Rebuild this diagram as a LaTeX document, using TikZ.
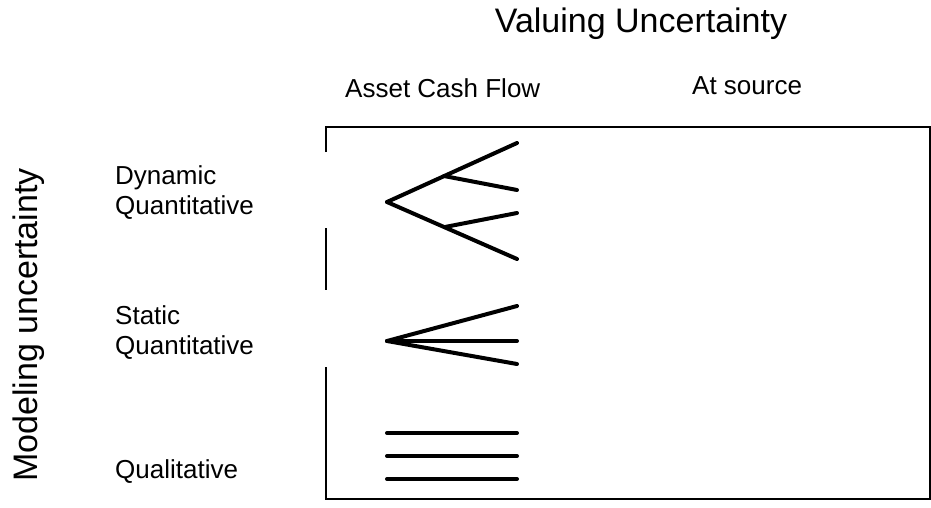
\documentclass[tikz,border=0pt]{standalone}
\usepackage{fontspec}
\setmainfont{Liberation Sans}
\usetikzlibrary{positioning}

\begin{document}
\begin{tikzpicture}[-,x=1pt,y=-1pt,line cap=round]
\tikzstyle{bigtext}=[inner sep=0pt,font=\fontsize{34}{40}\selectfont]
\tikzstyle{smalltext}=[inner sep=0pt,align=left,font=\fontsize{26}{30}\selectfont]
\tikzstyle{frame}=[line width=1.6pt,line cap=butt]
\tikzstyle{branch}=[line width=4pt]
\tikzstyle{tip}=[coordinate]

\useasboundingbox (0,0) rectangle (931,508);

% headings
\node[bigtext]   (V) [anchor=base] at (641,33) {Valuing Uncertainty};
\node[smalltext] (A) [anchor=base west] at (345,98) {Asset Cash Flow};
\node[smalltext] (S) [anchor=base west] at (692,95) {At source};
\node[bigtext]   (M) [rotate=90] at (29,325) {Modeling uncertainty};
\node[smalltext] (D) [anchor=west] at (115,193) {Dynamic\\Quantitative};
\node[smalltext] (T) [anchor=west] at (115,333) {Static\\Quantitative};
\node[smalltext] (Q) [anchor=base west] at (115,478) {Qualitative};

% frame, left side broken by the row labels
\coordinate (nw) at (326,127);
\coordinate (ne) at (930,127);
\coordinate (se) at (930,499);
\coordinate (sw) at (326,499);
\coordinate (g1) at (326,152);
\coordinate (g2) at (326,228);
\coordinate (g3) at (326,290);
\coordinate (g4) at (326,367);
\draw[frame] (g1) -- (nw) -- (ne) -- (se) -- (sw) -- (g4);
\draw[frame] (g2) -- (g3);

% dynamic: tree
\coordinate (d0) at (387,202);
\coordinate (b1) at (444,176);
\coordinate (b2) at (445,227);
\coordinate (d1) at (517,143);
\coordinate (d2) at (517,190);
\coordinate (d3) at (517,213);
\coordinate (d4) at (517,259);

% static: fan
\coordinate (s0) at (387,341);
\coordinate (s1) at (517,306);
\node[tip] (s2) [right of=s0, node distance=130pt] {};
\coordinate (s3) at (517,364);

% qualitative: lines
\coordinate (q1) at (387,433);
\coordinate (q2) at (387,456);
\coordinate (q3) at (387,479);
\node[tip] (r1) [right of=q1, node distance=130pt] {};
\node[tip] (r2) [right of=q2, node distance=130pt] {};
\node[tip] (r3) [right of=q3, node distance=130pt] {};

\path[branch]
(d0) edge (d1)
(b1) edge (d2)
(d0) edge (d4)
(b2) edge (d3)
(s0) edge (s1)
(s0) edge (s2)
(s0) edge (s3)
(q1) edge (r1)
(q2) edge (r2)
(q3) edge (r3)
;
\end{tikzpicture}
\end{document}
